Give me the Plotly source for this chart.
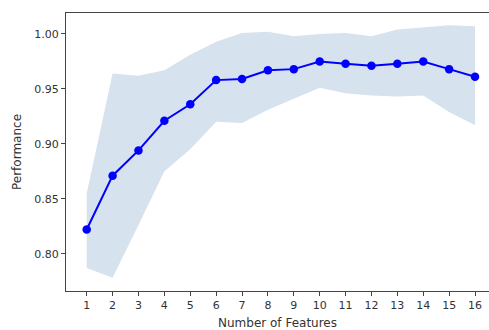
import plotly.graph_objects as go

n_features = list(range(1, 17))
performance = [0.822, 0.871, 0.894, 0.921, 0.936, 0.958, 0.959, 0.967, 0.968, 0.975,
               0.973, 0.971, 0.973, 0.975, 0.968, 0.961]
upper = [0.855, 0.964, 0.962, 0.967, 0.981, 0.993, 1.001, 1.002, 0.998, 1.000,
         1.001, 0.998, 1.004, 1.006, 1.008, 1.007]
lower = [0.787, 0.778, 0.826, 0.875, 0.895, 0.920, 0.919, 0.931, 0.941, 0.951,
         0.946, 0.944, 0.943, 0.944, 0.929, 0.917]
x_ticks = list(range(1, 17))
y_ticks = [0.80, 0.85, 0.90, 0.95, 1.00]

fig = go.Figure()
fig.add_trace(go.Scatter(x=n_features, y=lower, mode="lines", line=dict(width=0),
                         showlegend=False, hoverinfo="skip"))
fig.add_trace(go.Scatter(x=n_features, y=upper, mode="lines", line=dict(width=0),
                         fill="tonexty", fillcolor="rgb(214,226,238)",
                         showlegend=False, hoverinfo="skip"))
fig.add_trace(go.Scatter(x=n_features, y=performance, mode="lines+markers",
                         line=dict(color="#0000ff", width=2),
                         marker=dict(color="#0000ff", size=8.5),
                         showlegend=False))

axis_font = dict(family="DejaVu Sans", size=11, color="#333333")
title_font = dict(family="DejaVu Sans", size=12, color="#333333")
fig.update_layout(
    width=489, height=330,
    margin=dict(l=66, r=0, t=13, b=39),
    paper_bgcolor="white", plot_bgcolor="white",
    font=dict(family="DejaVu Sans", size=11, color="#333333"),
    xaxis=dict(range=[0.2, 16.54], tickmode="array", tickvals=x_ticks,
               ticktext=[str(v) for v in x_ticks],
               showgrid=False, zeroline=False, showline=True, linecolor="#444444",
               linewidth=1, mirror=True, ticks="outside", ticklen=4,
               tickcolor="#444444", tickfont=axis_font,
               title=dict(text="Number of Features", font=title_font, standoff=7)),
    yaxis=dict(range=[0.766, 1.0191], tickmode="array", tickvals=y_ticks,
               ticktext=[f"{v:.2f}" for v in y_ticks],
               showgrid=False, zeroline=False, showline=True, linecolor="#444444",
               linewidth=1, mirror=False, ticks="outside", ticklen=4,
               tickcolor="#444444", tickfont=axis_font,
               title=dict(text="Performance", font=title_font, standoff=10)),
)

fig.write_html("out.html")
